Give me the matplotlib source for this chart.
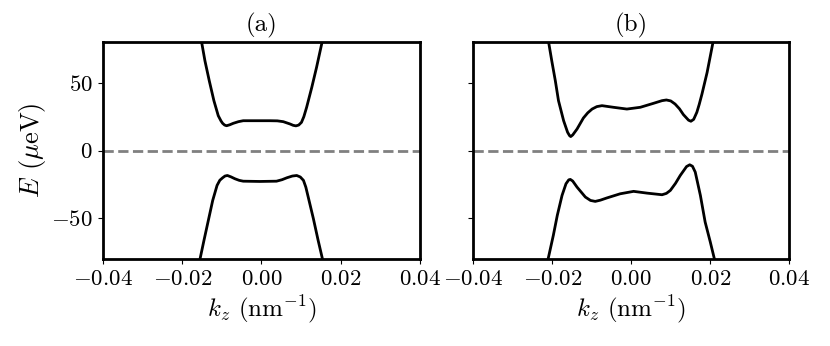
import numpy as np
import matplotlib
matplotlib.use("Agg")
import matplotlib.pyplot as plt

plt.rcParams["font.family"] = "serif"
plt.rcParams["font.serif"] = ["cmr10"]
plt.rcParams["mathtext.fontset"] = "cm"
plt.rcParams["axes.formatter.use_mathtext"] = True
plt.rcParams["axes.linewidth"] = 2

# band (a): k in nm^-1, E in micro eV
k_a_up = [-0.0160, -0.0151, -0.01426, -0.01317, -0.0120, -0.0109, -0.0102, -0.0098, -0.0093, -0.0088,
          -0.0080, -0.0071, -0.0058, -0.0046, -0.0012, 0.0021, 0.0040, 0.0055, 0.0072,
          0.0080, 0.0087, 0.0094, 0.0101, 0.0107, 0.0114, 0.0127, 0.0139, 0.0153, 0.0162]
E_a_up = [95, 80, 66.2, 51.5, 36.8, 25.7, 21.8, 20.1, 18.8, 18.3,
          19.0, 20.1, 21.3, 22.0, 22.0, 22.0, 21.9, 21.3, 19.6,
          18.6, 18.2, 18.8, 20.8, 25.0, 31.9, 46.6, 61.3, 80, 95]

k_a_dn = [-0.0163, -0.0155, -0.0145, -0.0134, -0.0123, -0.0112, -0.0105, -0.0098, -0.0092, -0.0086,
          -0.0077, -0.0067, -0.0056, -0.0046, -0.0004, 0.0038, 0.0052, 0.0064, 0.0078,
          0.0089, 0.0098, 0.0106, 0.0112, 0.0118, 0.0131, 0.0143, 0.0154, 0.0163]
E_a_dn = [-95, -80, -66.2, -51.5, -36.8, -25.7, -21.9, -20.1, -18.8, -18.4,
          -19.4, -20.8, -22.0, -22.6, -22.8, -22.6, -21.5, -20.1, -18.8,
          -18.4, -19.5, -22.0, -27.0, -34.3, -50.2, -66.2, -80, -95]

# band (b)
k_b_up = [-0.0218, -0.0209, -0.0201, -0.0192, -0.0184, -0.0171, -0.0161, -0.0156, -0.0153,
          -0.0148, -0.0137, -0.0121, -0.0110, -0.0099, -0.0087, -0.0074, -0.0045, -0.0011, 0.0023, 0.0056,
          0.0078, 0.0089, 0.0100, 0.0111, 0.0122, 0.0132, 0.0145, 0.0151, 0.0158, 0.0166, 0.0172, 0.0179,
          0.0192, 0.0207, 0.0217]
E_b_up = [95, 80, 66.2, 51.5, 36.8, 22.0, 13.5, 11.0, 10.3,
          11.5, 15.9, 24.0, 27.8, 30.6, 32.4, 33.1, 31.9, 30.6, 31.9, 34.8,
          36.8, 37.3, 36.6, 34.3, 30.8, 26.5, 22.4, 21.6, 23.0, 28.2, 34.0, 41.7,
          57.6, 80, 95]

k_b_dn = [-0.0222, -0.0208, -0.0197, -0.0187, -0.0175, -0.0165, -0.0158, -0.0154, -0.0148,
          -0.0137, -0.0116, -0.0103, -0.0091, -0.0078, -0.0062, -0.0028, 0.0006, 0.0040, 0.0078, 0.0089, 0.0099,
          0.0112, 0.0124, 0.0140, 0.0148, 0.0155, 0.0162, 0.0175, 0.0187, 0.0200, 0.0208, 0.0223]
E_b_dn = [-95, -77, -62.5, -47.8, -33.1, -24.5, -21.6, -21.3, -22.5,
          -27.0, -34.3, -36.8, -37.5, -36.6, -35.0, -31.9, -30.1, -31.4, -32.6, -31.6, -29.4,
          -24.2, -18.4, -11.8, -10.5, -11.6, -15.9, -33.1, -52.7, -67.4, -77, -95]

panels = ["(a)", "(b)"]
xticks = [-0.04, -0.02, 0.00, 0.02, 0.04]
yticks = [-50, 0, 50]

fig = plt.figure(figsize=(8.3, 3.46), dpi=100)
ax1 = fig.add_axes([0.124, 0.2514, 0.382, 0.627])
ax2 = fig.add_axes([0.570, 0.2514, 0.381, 0.627], sharey=ax1)

curves = [(k_a_up, E_a_up, k_a_dn, E_a_dn), (k_b_up, E_b_up, k_b_dn, E_b_dn)]

for ax, name, (ku, eu, kd, ed) in zip([ax1, ax2], panels, curves):
    ax.axhline(0, color="gray", ls="--", lw=2)
    ax.plot(ku, eu, color="black", lw=2)
    ax.plot(kd, ed, color="black", lw=2)
    ax.set_xlim(-0.04, 0.04)
    ax.set_ylim(-80, 80)
    ax.set_xticks(xticks)
    ax.set_xticklabels(["$-0.04$", "$-0.02$", "$0.00$", "$0.02$", "$0.04$"])
    ax.set_yticks(yticks)
    ax.tick_params(labelsize=16.5, pad=4)
    ax.set_xlabel(r"$k_z$ (nm$^{-1}$)", fontsize=18, labelpad=3)
    ax.set_title(name, fontsize=18, pad=8)

ax1.set_ylabel(r"$E$ ($\mu$eV)", fontsize=19, labelpad=2)
ax1.set_yticklabels(["$-50$", "$0$", "$50$"])
plt.setp(ax2.get_yticklabels(), visible=False)

fig.savefig("out.png", dpi=100)
